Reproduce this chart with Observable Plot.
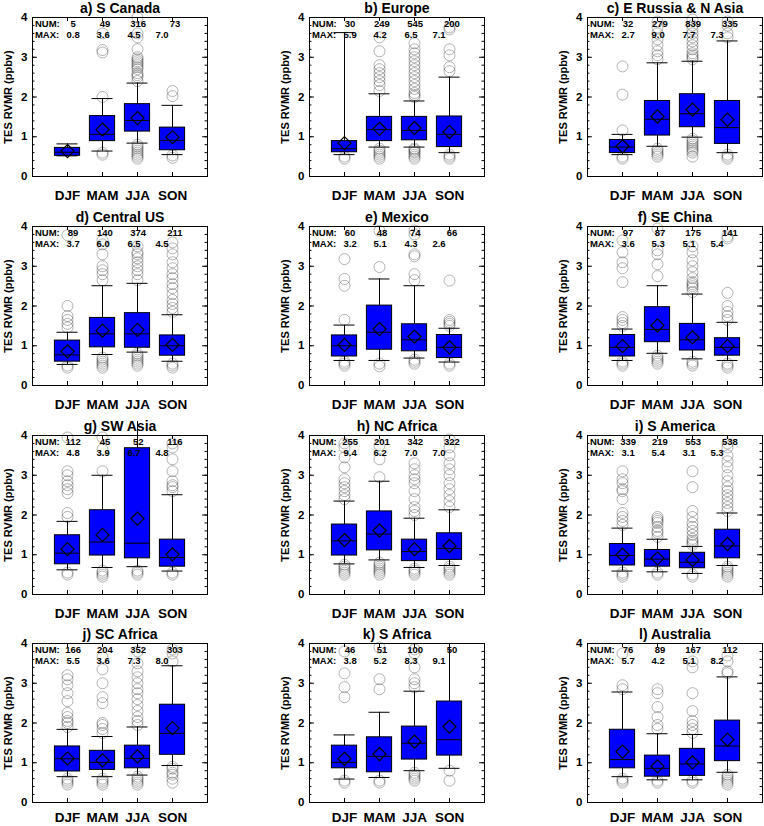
<!DOCTYPE html>
<html><head><meta charset="utf-8">
<script src="https://cdn.jsdelivr.net/npm/d3@7"></script>
<script src="https://cdn.jsdelivr.net/npm/@observablehq/plot@0.6"></script>
<style>
body{margin:0;background:#fff;overflow:hidden}
#wrap{position:relative;width:764px;height:826px;font-family:"Liberation Sans",Arial,sans-serif}
#wrap svg{position:absolute;font-family:"Liberation Sans",Arial,sans-serif}
#wrap svg text{font-weight:bold}
</style></head><body><div id="wrap"></div>
<script>
const seasons = ["DJF", "MAM", "JJA", "SON"];
const regions = ["a) S Canada", "b) Europe", "c) E Russia & N Asia", "d) Central US", "e) Mexico", "f) SE China",
  "g) SW Asia", "h) NC Africa", "i) S America", "j) SC Africa", "k) S Africa", "l) Australia"];
const num = [[5,49,316,73],[30,249,545,200],[32,279,839,335],[89,140,374,211],[60,48,74,66],[97,87,175,141],
  [112,45,52,116],[255,201,342,322],[339,219,553,538],[166,204,352,303],[46,51,100,50],[76,89,167,112]];
const maxVal = [[0.8,3.6,4.5,7.0],[5.9,4.2,6.5,7.1],[2.7,9.0,7.7,7.3],[3.7,6.0,6.5,4.5],[3.2,5.1,4.3,2.6],[3.6,5.3,5.1,5.4],
  [4.8,3.9,6.7,4.8],[9.4,6.2,7.0,7.0],[3.1,5.4,3.1,5.3],[5.5,3.6,7.3,8.0],[3.8,5.2,8.3,9.1],[5.7,4.2,5.1,8.2]];
const whiskerLo = [[0.52,0.64,0.84,0.55],[0.55,0.74,0.74,0.60],[0.55,0.76,0.99,0.60],[0.53,0.78,0.84,0.61],
  [0.63,0.63,0.69,0.59],[0.63,0.81,0.67,0.63],[0.62,0.68,0.70,0.59],[0.77,0.87,0.68,0.73],
  [0.59,0.57,0.53,0.73],[0.65,0.65,0.69,0.93],[0.59,0.63,0.80,0.86],[0.65,0.57,0.57,0.76]];
const q1 = [[0.52,0.89,1.13,0.66],[0.61,0.89,0.91,0.74],[0.59,1.03,1.24,0.82],[0.60,0.96,0.95,0.75],
  [0.73,0.90,0.86,0.69],[0.73,1.09,0.88,0.75],[0.76,0.98,0.91,0.70],[0.98,1.11,0.84,0.87],
  [0.73,0.70,0.66,0.91],[0.78,0.82,0.86,1.20],[0.86,0.76,1.08,1.18],[0.86,0.65,0.67,1.04]];
const median = [[0.61,1.06,1.41,0.91],[0.70,1.18,1.16,1.06],[0.74,1.44,1.58,1.23],[0.77,1.30,1.30,1.00],
  [1.00,1.34,1.15,0.96],[0.96,1.41,1.15,0.96],[1.04,1.32,1.29,0.93],[1.35,1.52,1.08,1.16],
  [0.98,0.89,0.81,1.22],[1.10,1.01,1.11,1.74],[1.01,1.16,1.49,1.58],[1.08,0.86,0.97,1.42]];
const q3 = [[0.72,1.52,1.82,1.23],[0.89,1.50,1.50,1.51],[0.92,1.90,2.07,1.90],[1.13,1.70,1.82,1.26],
  [1.26,2.01,1.54,1.27],[1.27,1.97,1.55,1.19],[1.49,2.12,3.68,1.38],[1.76,2.09,1.38,1.54],
  [1.27,1.12,1.05,1.63],[1.41,1.30,1.43,2.46],[1.43,1.64,1.91,2.54],[1.83,1.18,1.35,2.06]];
const whiskerHi = [[0.82,1.96,2.35,1.79],[3.62,2.08,1.90,2.50],[1.06,2.86,2.90,3.41],[1.34,2.51,2.57,1.78],
  [1.52,2.68,2.51,1.44],[1.42,2.51,2.30,1.59],[1.84,3.00,4.35,2.51],[2.35,2.85,1.92,2.13],
  [1.67,1.39,1.21,2.05],[1.84,1.66,1.90,3.44],[1.70,2.27,2.80,4.00],[2.78,1.73,1.71,3.16]];
const mean = [[0.64,1.18,1.47,0.99],[0.84,1.20,1.22,1.12],[0.76,1.51,1.68,1.43],[0.86,1.38,1.40,1.02],
  [1.02,1.42,1.23,0.96],[0.99,1.51,1.21,0.99],[1.14,1.50,1.91,1.01],[1.37,1.61,1.14,1.22],
  [1.00,0.91,0.87,1.27],[1.11,1.06,1.16,1.87],[1.10,1.22,1.53,1.91],[1.28,0.91,1.01,1.58]];
const outliers = [
  [[], [3.6,3.18,3.12,2.0,0.6,0.55], [4.0,3.6,3.5,3.2,3.0,2.95,2.9,2.85,2.8,2.75,2.7,2.6,2.55,2.5,2.4,0.8,0.75,0.7,0.65,0.6,0.55,0.5,0.45], [2.15,2.02,0.53,0.47]],
  [[0.5,0.45], [3.5,3.15,2.8,2.7,2.6,2.5,2.4,2.3,2.15,0.7,0.65,0.6,0.55,0.5,0.45], [3.35,3.2,3.1,3.0,2.9,2.8,2.7,2.6,2.5,2.4,2.3,2.2,2.1,2.05,2.0,0.7,0.67,0.63,0.6,0.55,0.5,0.45], [3.75,3.7,3.2,3.05,2.75,2.65,0.55,0.5,0.45]],
  [[2.77,2.06,1.16,0.5,0.45], [3.9,3.75,3.6,3.45,3.3,3.15,3.05,2.95,0.7,0.65,0.6,0.55,0.5], [3.95,3.8,3.7,3.6,3.5,3.4,3.3,3.2,3.1,3.05,3.0,2.95,0.95,0.9,0.85,0.8,0.75,0.7,0.65,0.6,0.5], [3.9,3.8,3.6,3.5,0.55,0.5,0.45]],
  [[3.78,2.0,1.75,1.65,1.55,1.46,0.5,0.45], [3.65,3.55,3.3,3.0,2.9,2.8,2.65,0.7,0.65,0.6,0.55,0.5,0.45], [3.5,3.35,3.3,3.2,3.1,3.0,2.9,2.8,2.65,0.8,0.75,0.7,0.65,0.6,0.55,0.5], [3.6,3.45,3.3,3.1,2.95,2.8,2.7,2.55,2.45,2.3,2.15,2.05,1.95,1.85,0.55,0.5,0.45]],
  [[3.18,2.68,2.51,1.65,0.6,0.55,0.5], [3.89,2.98,0.55,0.48], [3.9,3.8,3.3,3.25,2.8,2.65,0.65,0.6,0.55], [2.64,1.65,1.6,1.55,1.5,0.55,0.5]],
  [[3.65,3.35,3.1,2.95,2.6,1.72,1.65,1.57,1.5,0.6,0.55,0.5], [3.95,3.4,3.3,3.05,2.75,0.75,0.7,0.65,0.6,0.55], [3.5,3.35,3.15,3.0,2.85,2.7,2.6,2.55,2.5,2.45,2.35,0.6,0.55,0.5], [3.75,3.7,2.33,2.0,1.85,1.75,1.65,0.55,0.5,0.45]],
  [[3.95,3.1,3.0,2.85,2.75,2.65,2.55,2.05,1.95,0.55,0.5], [3.95,3.65,3.1,0.6,0.55,0.5,0.45], [0.6,0.55,0.5], [3.8,3.7,3.4,3.1,2.85,2.75,2.7,2.6,0.55,0.5]],
  [[3.8,3.7,3.45,3.2,2.9,2.8,2.7,2.6,2.5,2.4,0.75,0.7,0.65,0.6,0.55,0.5], [3.75,3.4,2.95,0.8,0.75,0.7,0.65,0.6,0.55,0.5], [3.3,3.15,3.0,2.9,2.8,2.6,2.4,2.2,2.1,2.0,0.65,0.6,0.55,0.5], [3.9,3.7,3.5,3.3,3.15,3.0,2.8,2.65,2.5,2.35,2.2,0.7,0.65,0.6,0.55,0.5]],
  [[3.1,2.9,2.8,2.65,2.6,2.4,2.05,1.95,1.85,1.75,0.55,0.5,0.45], [1.95,1.9,1.85,1.8,1.7,1.6,1.55,1.45,0.55,0.5], [3.1,2.7,2.1,1.95,1.8,1.7,1.6,1.5,1.4,1.35,1.3,1.25,0.5,0.45], [3.8,3.7,3.5,3.35,3.2,3.0,2.85,2.7,2.6,2.5,2.4,2.3,2.2,2.1,0.7,0.65,0.6,0.55,0.5,0.45]],
  [[3.2,3.1,2.95,2.75,2.55,2.25,2.15,2.05,2.0,1.9,0.6,0.55,0.5,0.45], [3.65,3.35,3.0,2.65,2.5,2.0,1.95,1.85,1.75,0.6,0.55,0.5,0.45], [3.8,3.5,3.3,3.15,3.0,2.85,2.75,2.6,2.45,2.3,2.15,2.05,1.95,0.65,0.6,0.55,0.5,0.45], [3.85,3.75,3.55,0.9,0.85,0.75,0.7,0.6,0.5]],
  [[3.8,3.25,2.9,2.65,0.55,0.5], [3.9,3.1,2.85,0.55,0.5], [3.85,3.75,3.4,3.1,3.0,2.9,0.75,0.7,0.65,0.6,0.55], [0.8,0.55]],
  [[3.75,2.95,2.85,0.6,0.55,0.5], [2.85,2.75,2.4,2.15,1.95,1.85,0.55,0.5], [3.55,3.4,2.75,2.3,2.05,1.95,1.85,1.75,0.55,0.5], [3.7,3.55,3.3,3.25,0.7,0.65,0.6,0.55,0.5,0.45]]
];
const yTicks = [0, 1, 2, 3, 4];
const minorTicks = d3.range(0, 4.001, 0.2);

const wrap = document.getElementById("wrap");
const numX = [1.16, 2.07, 3.02, 4.07];
const maxX = [1.16, 2.02, 2.9, 3.7];
const BW = 0.36, CW = 0.3;

regions.forEach((title, i) => {
  const col = i % 3, row = Math.floor(i / 3);
  const boxes = seasons.map((s, j) => ({
    x: j + 1, lo: whiskerLo[i][j], q1: q1[i][j], med: median[i][j], q3: q3[i][j], hi: whiskerHi[i][j], mean: mean[i][j]
  }));
  const outs = outliers[i].flatMap((arr, j) => arr.map(v => ({x: j + 1, y: v})));
  const caps = boxes.flatMap(b => [b.lo, b.hi].filter(v => v <= 4.0001).map(v => ({x: b.x, y: v})));
  const idx = [0, 1, 2, 3];
  const chart = Plot.plot({
    width: 210, height: 209,
    marginLeft: 32, marginRight: 3, marginTop: 17, marginBottom: 33,
    x: {domain: [0, 5], axis: null},
    y: {domain: [0, 4], axis: null},
    style: {fontFamily: "Liberation Sans, Arial, sans-serif", background: "white", color: "black"},
    marks: [
      Plot.axisY({ticks: yTicks, tickSize: 0, tickPadding: 5, tickFormat: d => String(d), fontSize: 11.5, label: null}),
      Plot.axisX({ticks: [1, 2, 3, 4], tickSize: 0, tickPadding: row === 3 ? 10 : 14, tickFormat: d => seasons[d - 1], fontSize: 13.5, label: null}),
      Plot.dot(outs, {x: "x", y: "y", r: 5.5, stroke: "black", strokeOpacity: 0.33, strokeWidth: 0.9, fill: "none"}),
      Plot.ruleX(boxes, {x: "x", y1: "lo", y2: "hi", stroke: "black", strokeWidth: 1}),
      Plot.ruleY(caps, {y: "y", x1: d => d.x - CW, x2: d => d.x + CW, stroke: "black", strokeWidth: 1}),
      Plot.rect(boxes, {x1: d => d.x - BW, x2: d => d.x + BW, y1: "q1", y2: "q3", fill: "#0000ff", stroke: "black", strokeWidth: 1}),
      Plot.ruleY(boxes, {y: "med", x1: d => d.x - BW, x2: d => d.x + BW, stroke: "black", strokeWidth: 1}),
      Plot.dot(boxes, {x: "x", y: "mean", symbol: "diamond2", r: 5.9, stroke: "black", strokeWidth: 1.2, fill: "none"}),
      Plot.ruleY(yTicks, {y: d => d, x1: 0, x2: 0.14, stroke: "black"}),
      Plot.ruleY(yTicks, {y: d => d, x1: 4.86, x2: 5, stroke: "black"}),
      Plot.ruleY(minorTicks, {y: d => d, x1: 0, x2: 0.07, stroke: "black"}),
      Plot.ruleY(minorTicks, {y: d => d, x1: 4.93, x2: 5, stroke: "black"}),
      Plot.ruleX([1, 2, 3, 4], {x: d => d, y1: 0, y2: 0.1, stroke: "black"}),
      Plot.ruleX([1, 2, 3, 4], {x: d => d, y1: 3.9, y2: 4, stroke: "black"}),
      Plot.frame({stroke: "black", strokeWidth: 1}),
      Plot.text(["NUM:"], {x: 0.07, frameAnchor: "top", dy: 6, textAnchor: "start", lineAnchor: "middle", fontSize: 9.5}),
      Plot.text(["MAX:"], {x: 0.07, frameAnchor: "top", dy: 17, textAnchor: "start", lineAnchor: "middle", fontSize: 9.5}),
      Plot.text(idx, {x: j => numX[j], text: j => String(num[i][j]), frameAnchor: "top", dy: 6, lineAnchor: "middle", fontSize: 9.5}),
      Plot.text(idx, {x: j => maxX[j], text: j => maxVal[i][j].toFixed(1), frameAnchor: "top", dy: 17, lineAnchor: "middle", fontSize: 9.5}),
      Plot.text(["TES RVMR (ppbv)"], {frameAnchor: "left", dx: -24.5, rotate: -90, textAnchor: "middle", lineAnchor: "middle", fontSize: 11}),
      Plot.text([title], {frameAnchor: "top", dy: -9, textAnchor: "middle", lineAnchor: "middle", fontSize: 14})
    ]
  });
  chart.style.left = [0, 277, 555][col] + "px";
  chart.style.top = [0, 209, 418, 626][row] + "px";
  wrap.appendChild(chart);
});
</script>
</body></html>
